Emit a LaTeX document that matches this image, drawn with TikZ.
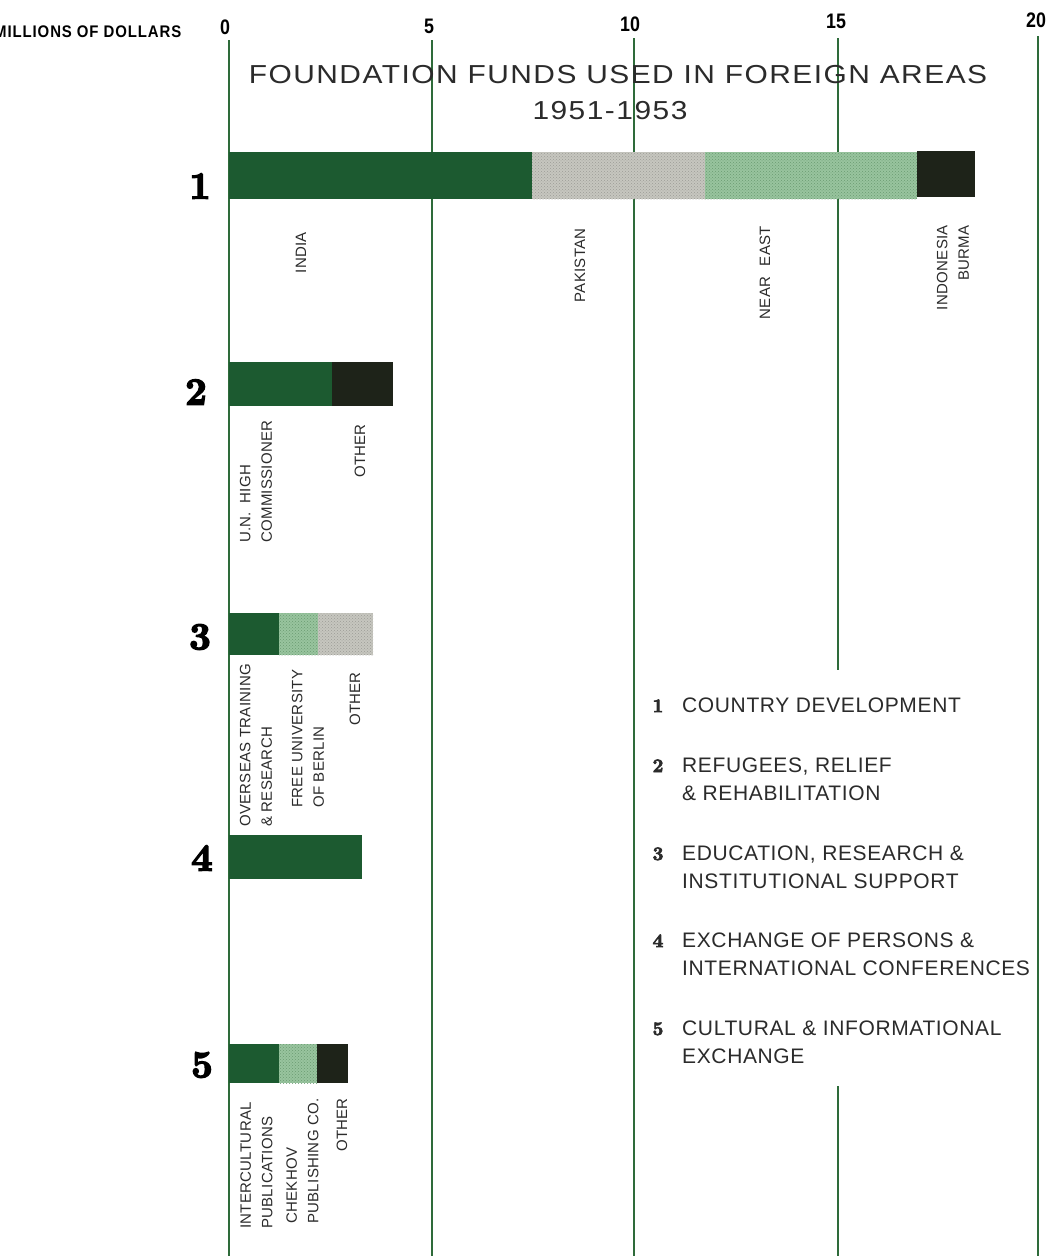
\documentclass[tikz,border=0pt]{standalone}
\usepackage{fontspec}
\usetikzlibrary{patterns}
\newfontfamily\labfam[LetterSpace=2]{Liberation Sans}
\newfontfamily\titlefam[LetterSpace=5]{Liberation Sans}
\newfontfamily\legfam[LetterSpace=3]{Liberation Sans}
\newfontfamily\unitfam[LetterSpace=6]{Liberation Sans}
\newfontfamily\plainsans{Liberation Sans}
\newcommand\heavytext[2]{\special{pdf:literal direct 2 Tr #1 w}#2\special{pdf:literal direct 0 Tr}}
\definecolor{lineg}{HTML}{2E6B3A}
\definecolor{dkgreen}{HTML}{1C5A30}
\definecolor{blackbar}{HTML}{1E2319}
\definecolor{graybar}{HTML}{C6C6BF}
\definecolor{graydot}{HTML}{9C9C96}
\definecolor{ltgreen}{HTML}{98C49E}
\definecolor{ltdot}{HTML}{6A9B72}
\definecolor{labc}{HTML}{2B2B2B}
\begin{document}
\begin{tikzpicture}[x=1pt,y=-1pt,
  gridline/.style={draw=lineg,line width=2pt},
  lab/.style={rotate=90,inner sep=0pt,text=labc,font=\labfam\fontsize{15}{21.5}\selectfont},
  ticklab/.style={inner sep=0pt,font=\plainsans\bfseries\fontsize{21}{21}\selectfont},
  bignum/.style={inner sep=0pt,text=black,font=\rmfamily\bfseries\fontsize{38}{38}\selectfont},
  legnum/.style={inner sep=0pt,anchor=base,text=labc,font=\rmfamily\bfseries\fontsize{19}{19}\selectfont},
  legtxt/.style={inner sep=0pt,anchor=base west,align=left,text=labc,font=\legfam\fontsize{21}{28.5}\selectfont},
  titletxt/.style={inner sep=0pt,anchor=base,text=labc,font=\titlefam\fontsize{26}{26}\selectfont}]
\useasboundingbox (0,0) rectangle (1052,1256);
\clip (0,0) rectangle (1052,1256);
\fill[white] (0,0) rectangle (1052,1256);

% grid lines
\draw[gridline] (229,40) -- (229,1256);
\draw[gridline] (432,40) -- (432,1256);
\draw[gridline] (634,38) -- (634,1256);
\draw[gridline] (838,38) -- (838,670);
\draw[gridline] (838,1086) -- (838,1256);
\draw[gridline] (1038,36) -- (1038,1256);

% axis labels
\node[inner sep=0pt,anchor=base west] (unit) at (-6,37)
  {\scalebox{0.89}[1]{\unitfam\bfseries\fontsize{16.8}{16.8}\selectfont MILLIONS OF DOLLARS}};
\node[ticklab] (t0) at (225,27) {\scalebox{0.85}[1]{0}};
\node[ticklab] (t5) at (429,26) {\scalebox{0.85}[1]{5}};
\node[ticklab] (t10) at (630,24) {\scalebox{0.85}[1]{10}};
\node[ticklab] (t15) at (836,21) {\scalebox{0.85}[1]{15}};
\node[ticklab] (t20) at (1036,20) {\scalebox{0.85}[1]{20}};

% title
\node[titletxt] (title) at (618,83) {\scalebox{1.15}[1]{FOUNDATION FUNDS USED IN FOREIGN AREAS}};
\node[titletxt] (years) at (610,119) {\scalebox{1.15}[1]{1951-1953}};

% bar 1
\fill[dkgreen] (229,152) rectangle (532,199);
\fill[graybar] (532,152) rectangle (705,199);
\fill[pattern=crosshatch dots,pattern color=graydot] (532,152) rectangle (705,199);
\fill[ltgreen] (705,152) rectangle (917,199);
\fill[pattern=crosshatch dots,pattern color=ltdot] (705,152) rectangle (917,199);
\fill[blackbar] (917,151) rectangle (975,197);
% bar 2
\fill[dkgreen] (229,362) rectangle (332,406);
\fill[blackbar] (332,362) rectangle (393,406);
% bar 3
\fill[dkgreen] (229,613) rectangle (279,655);
\fill[ltgreen] (279,613) rectangle (318,655);
\fill[pattern=crosshatch dots,pattern color=ltdot] (279,613) rectangle (318,655);
\fill[graybar] (318,613) rectangle (373,655);
\fill[pattern=crosshatch dots,pattern color=graydot] (318,613) rectangle (373,655);
% bar 4
\fill[dkgreen] (229,835) rectangle (362,879);
% bar 5
\fill[dkgreen] (229,1044) rectangle (279,1083);
\fill[ltgreen] (279,1044) rectangle (317,1083);
\fill[pattern=crosshatch dots,pattern color=ltdot] (279,1044) rectangle (317,1083);
\fill[blackbar] (317,1044) rectangle (348,1083);

% category numbers
\node[bignum] (n1) at (200,186) {\heavytext{1.6}{1}};
\node[bignum] (n2) at (196,392) {\heavytext{1.6}{2}};
\node[bignum] (n3) at (200,637) {\heavytext{1.6}{3}};
\node[bignum] (n4) at (202,858) {\heavytext{1.6}{4}};
\node[bignum] (n5) at (202,1065) {\heavytext{1.6}{5}};

% bar 1 labels
\node[lab,anchor=east] (india) at (301,232) {INDIA};
\node[lab,anchor=east] (pak) at (580,228) {PAKISTAN};
\node[lab,anchor=east] (neast) at (765,226) {NEAR\hspace{6pt} EAST};
\node[lab,anchor=east,align=right] (indo) at (953,225) {INDONESIA\\BURMA};
% bar 2 labels
\node[lab,anchor=west,align=left] (unhc) at (256,543) {U.N.\hspace{4pt} HIGH\\COMMISSIONER};
\node[lab] (oth2) at (360,451) {OTHER};
% bar 3 labels
\node[lab,anchor=west,align=left] (over) at (256,827) {OVERSEAS TRAINING\\\& RESEARCH};
\node[lab,anchor=west,align=left] (free) at (308,808) {FREE UNIVERSITY\\OF BERLIN};
\node[lab] (oth3) at (355,699) {OTHER};
% bar 5 labels
\node[lab,anchor=west,align=left] (inter) at (256.5,1229) {INTERCULTURAL\\PUBLICATIONS};
\node[lab,anchor=west,align=left] (chek) at (302.5,1224) {CHEKHOV\\PUBLISHING CO.};
\node[lab] (oth5) at (342,1125) {OTHER};

% legend (multi-line nodes sit on their last baseline)
\node[legnum] (l1) at (658,712) {\heavytext{0.8}{1}};
\node[legtxt] (k1) at (682,712) {COUNTRY DEVELOPMENT};
\node[legnum] (l2) at (658,772) {\heavytext{0.8}{2}};
\node[legtxt] (k2) at (682,800.5) {REFUGEES, RELIEF\\\& REHABILITATION};
\node[legnum] (l3) at (658,860) {\heavytext{0.8}{3}};
\node[legtxt] (k3) at (682,888.5) {EDUCATION, RESEARCH \&\\INSTITUTIONAL SUPPORT};
\node[legnum] (l4) at (658,947) {\heavytext{0.8}{4}};
\node[legtxt] (k4) at (682,975.5) {EXCHANGE OF PERSONS \&\\INTERNATIONAL CONFERENCES};
\node[legnum] (l5) at (658,1035) {\heavytext{0.8}{5}};
\node[legtxt] (k5) at (682,1063.5) {CULTURAL \& INFORMATIONAL\\EXCHANGE};
\end{tikzpicture}
\end{document}
